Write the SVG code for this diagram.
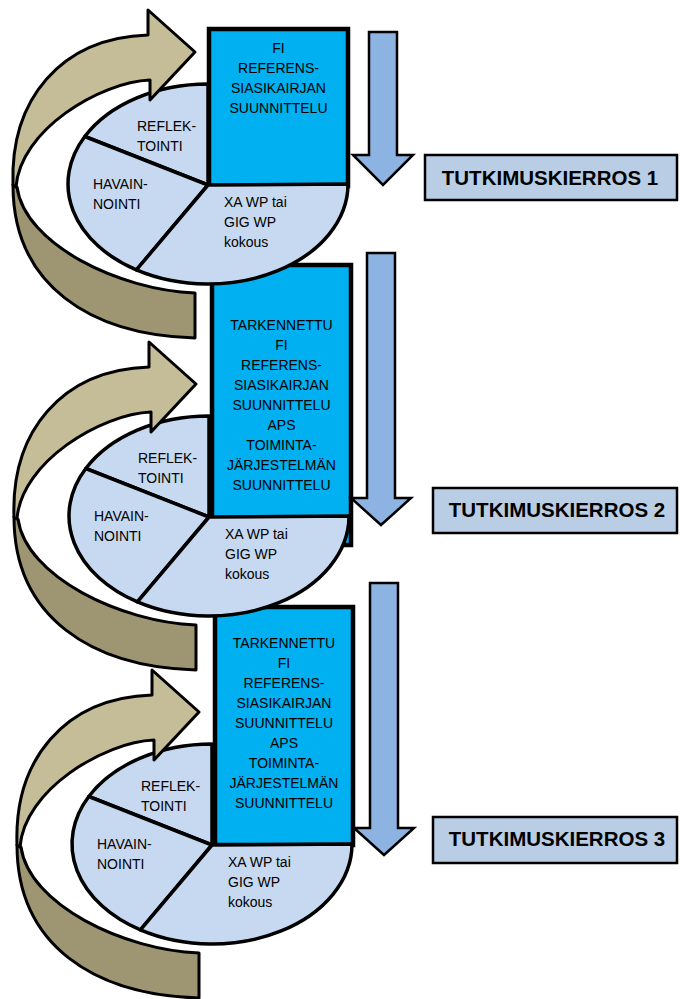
<svg xmlns="http://www.w3.org/2000/svg" width="680" height="999" viewBox="0 0 680 999">
  <style>
    .slice { fill: #C6D9F1; stroke: #000; stroke-width: 3.5; stroke-linejoin: round; }
    .plan { fill: #00B0F0; stroke: #000; stroke-width: 4.5; }
    .turn-back { fill: #9E9673; stroke: #000; stroke-width: 3; stroke-linejoin: round; }
    .turn-front { fill: #C4BD97; stroke: #000; stroke-width: 3; stroke-linejoin: round; }
    .down { fill: #8DB3E2; stroke: #000; stroke-width: 2.5; stroke-linejoin: miter; }
    .tag { fill: #B9CDE5; stroke: #000; stroke-width: 2.5; }
    text { font-family: "Liberation Sans", Arial, sans-serif; fill: #000; }
    .t { font-size: 14px; }
    .c { text-anchor: middle; }
    .tagtext { font-size: 20.5px; font-weight: bold; text-anchor: middle; }
  </style>
  <defs>
    <!-- pie of three phases, centred on the hub point (0,0) -->
    <g id="pie-shape">
      <path class="slice" d="M0,0 L0,-101 A140,100 0 0,0 -123.2,-48.5 Z"/>
      <path class="slice" d="M0,0 L-123.2,-48.5 A140,100 0 0,0 -71.6,84.9 Z"/>
      <path class="slice" d="M0,0 L-71.6,84.9 A140,100 0 0,0 140,-1 Z"/>
      <text class="t" x="-71" y="-54">REFLEK-</text>
      <text class="t" x="-71" y="-34">TOINTI</text>
      <text class="t" x="-115" y="4">HAVAIN-</text>
      <text class="t" x="-115" y="24">NOINTI</text>
      <text class="t" x="16" y="22">XA WP tai</text>
      <text class="t" x="16" y="42">GIG WP</text>
      <text class="t" x="16" y="62">kokous</text>
    </g>
    <!-- twisted ribbon arrow wrapping round the pie -->
    <g id="turn-shape">
      <path class="turn-back" d="M-195,0 C-195,100 -118,150 -13,153 L-13,108 C-88,105 -183,60 -191,2 Z"/>
      <path class="turn-front" d="M-60,-150 L-60,-175 L-13,-133 L-58,-85 L-58,-105 C-108,-103 -188,-55 -192,2 L-195,0 C-198,-85 -148,-147 -60,-150 Z"/>
    </g>
  </defs>

  <!-- planning boxes -->
  <g id="plan-1">
    <rect class="plan" x="209" y="29" width="139" height="157"/>
    <text class="t c" x="278.5" y="53">FI</text>
    <text class="t c" x="278.5" y="73">REFERENS-</text>
    <text class="t c" x="278.5" y="93">SIASIKAIRJAN</text>
    <text class="t c" x="278.5" y="113">SUUNNITTELU</text>
  </g>
  <g id="plan-2">
    <rect class="plan" x="212" y="265" width="139" height="280"/>
    <text class="t c" x="281.5" y="330">TARKENNETTU</text>
    <text class="t c" x="281.5" y="350">FI</text>
    <text class="t c" x="281.5" y="370">REFERENS-</text>
    <text class="t c" x="281.5" y="390">SIASIKAIRJAN</text>
    <text class="t c" x="281.5" y="410">SUUNNITTELU</text>
    <text class="t c" x="281.5" y="430">APS</text>
    <text class="t c" x="281.5" y="450">TOIMINTA-</text>
    <text class="t c" x="281.5" y="470">JÄRJESTELMÄN</text>
    <text class="t c" x="281.5" y="490">SUUNNITTELU</text>
  </g>
  <g id="plan-3">
    <rect class="plan" x="215" y="607" width="138" height="238"/>
    <text class="t c" x="284" y="648">TARKENNETTU</text>
    <text class="t c" x="284" y="668">FI</text>
    <text class="t c" x="284" y="688">REFERENS-</text>
    <text class="t c" x="284" y="708">SIASIKAIRJAN</text>
    <text class="t c" x="284" y="728">SUUNNITTELU</text>
    <text class="t c" x="284" y="748">APS</text>
    <text class="t c" x="284" y="768">TOIMINTA-</text>
    <text class="t c" x="284" y="788">JÄRJESTELMÄN</text>
    <text class="t c" x="284" y="808">SUUNNITTELU</text>
  </g>

  <!-- phase pies -->
  <g id="pie-1"><use href="#pie-shape" transform="translate(208,185)"/></g>
  <g id="pie-2"><use href="#pie-shape" transform="translate(209,517)"/></g>
  <g id="pie-3"><use href="#pie-shape" transform="translate(212,845)"/></g>

  <!-- connectors: ribbon arrows round each pie and the downward flow arrows -->
  <g id="connectors">
    <g id="turn-1"><use href="#turn-shape" transform="translate(208,185)"/></g>
    <g id="turn-2"><use href="#turn-shape" transform="translate(209,517)"/></g>
    <g id="turn-3"><use href="#turn-shape" transform="translate(212,845)"/></g>
    <path id="down-1" class="down" d="M369,32 L397,32 L397,155 L413,155 L383,185 L353,155 L369,155 Z"/>
    <path id="down-2" class="down" d="M367,253 L395,253 L395,498 L411,498 L381,525 L351,498 L367,498 Z"/>
    <path id="down-3" class="down" d="M370,583 L398,583 L398,828 L414,828 L384,855 L354,828 L370,828 Z"/>
  </g>

  <!-- round labels -->
  <g id="round-1">
    <rect class="tag" x="425" y="155" width="252" height="45"/>
    <text class="tagtext" x="550" y="185">TUTKIMUSKIERROS 1</text>
  </g>
  <g id="round-2">
    <rect class="tag" x="433" y="488" width="244" height="45"/>
    <text class="tagtext" x="557" y="517">TUTKIMUSKIERROS 2</text>
  </g>
  <g id="round-3">
    <rect class="tag" x="433" y="817" width="244" height="46"/>
    <text class="tagtext" x="557" y="846">TUTKIMUSKIERROS 3</text>
  </g>
</svg>
